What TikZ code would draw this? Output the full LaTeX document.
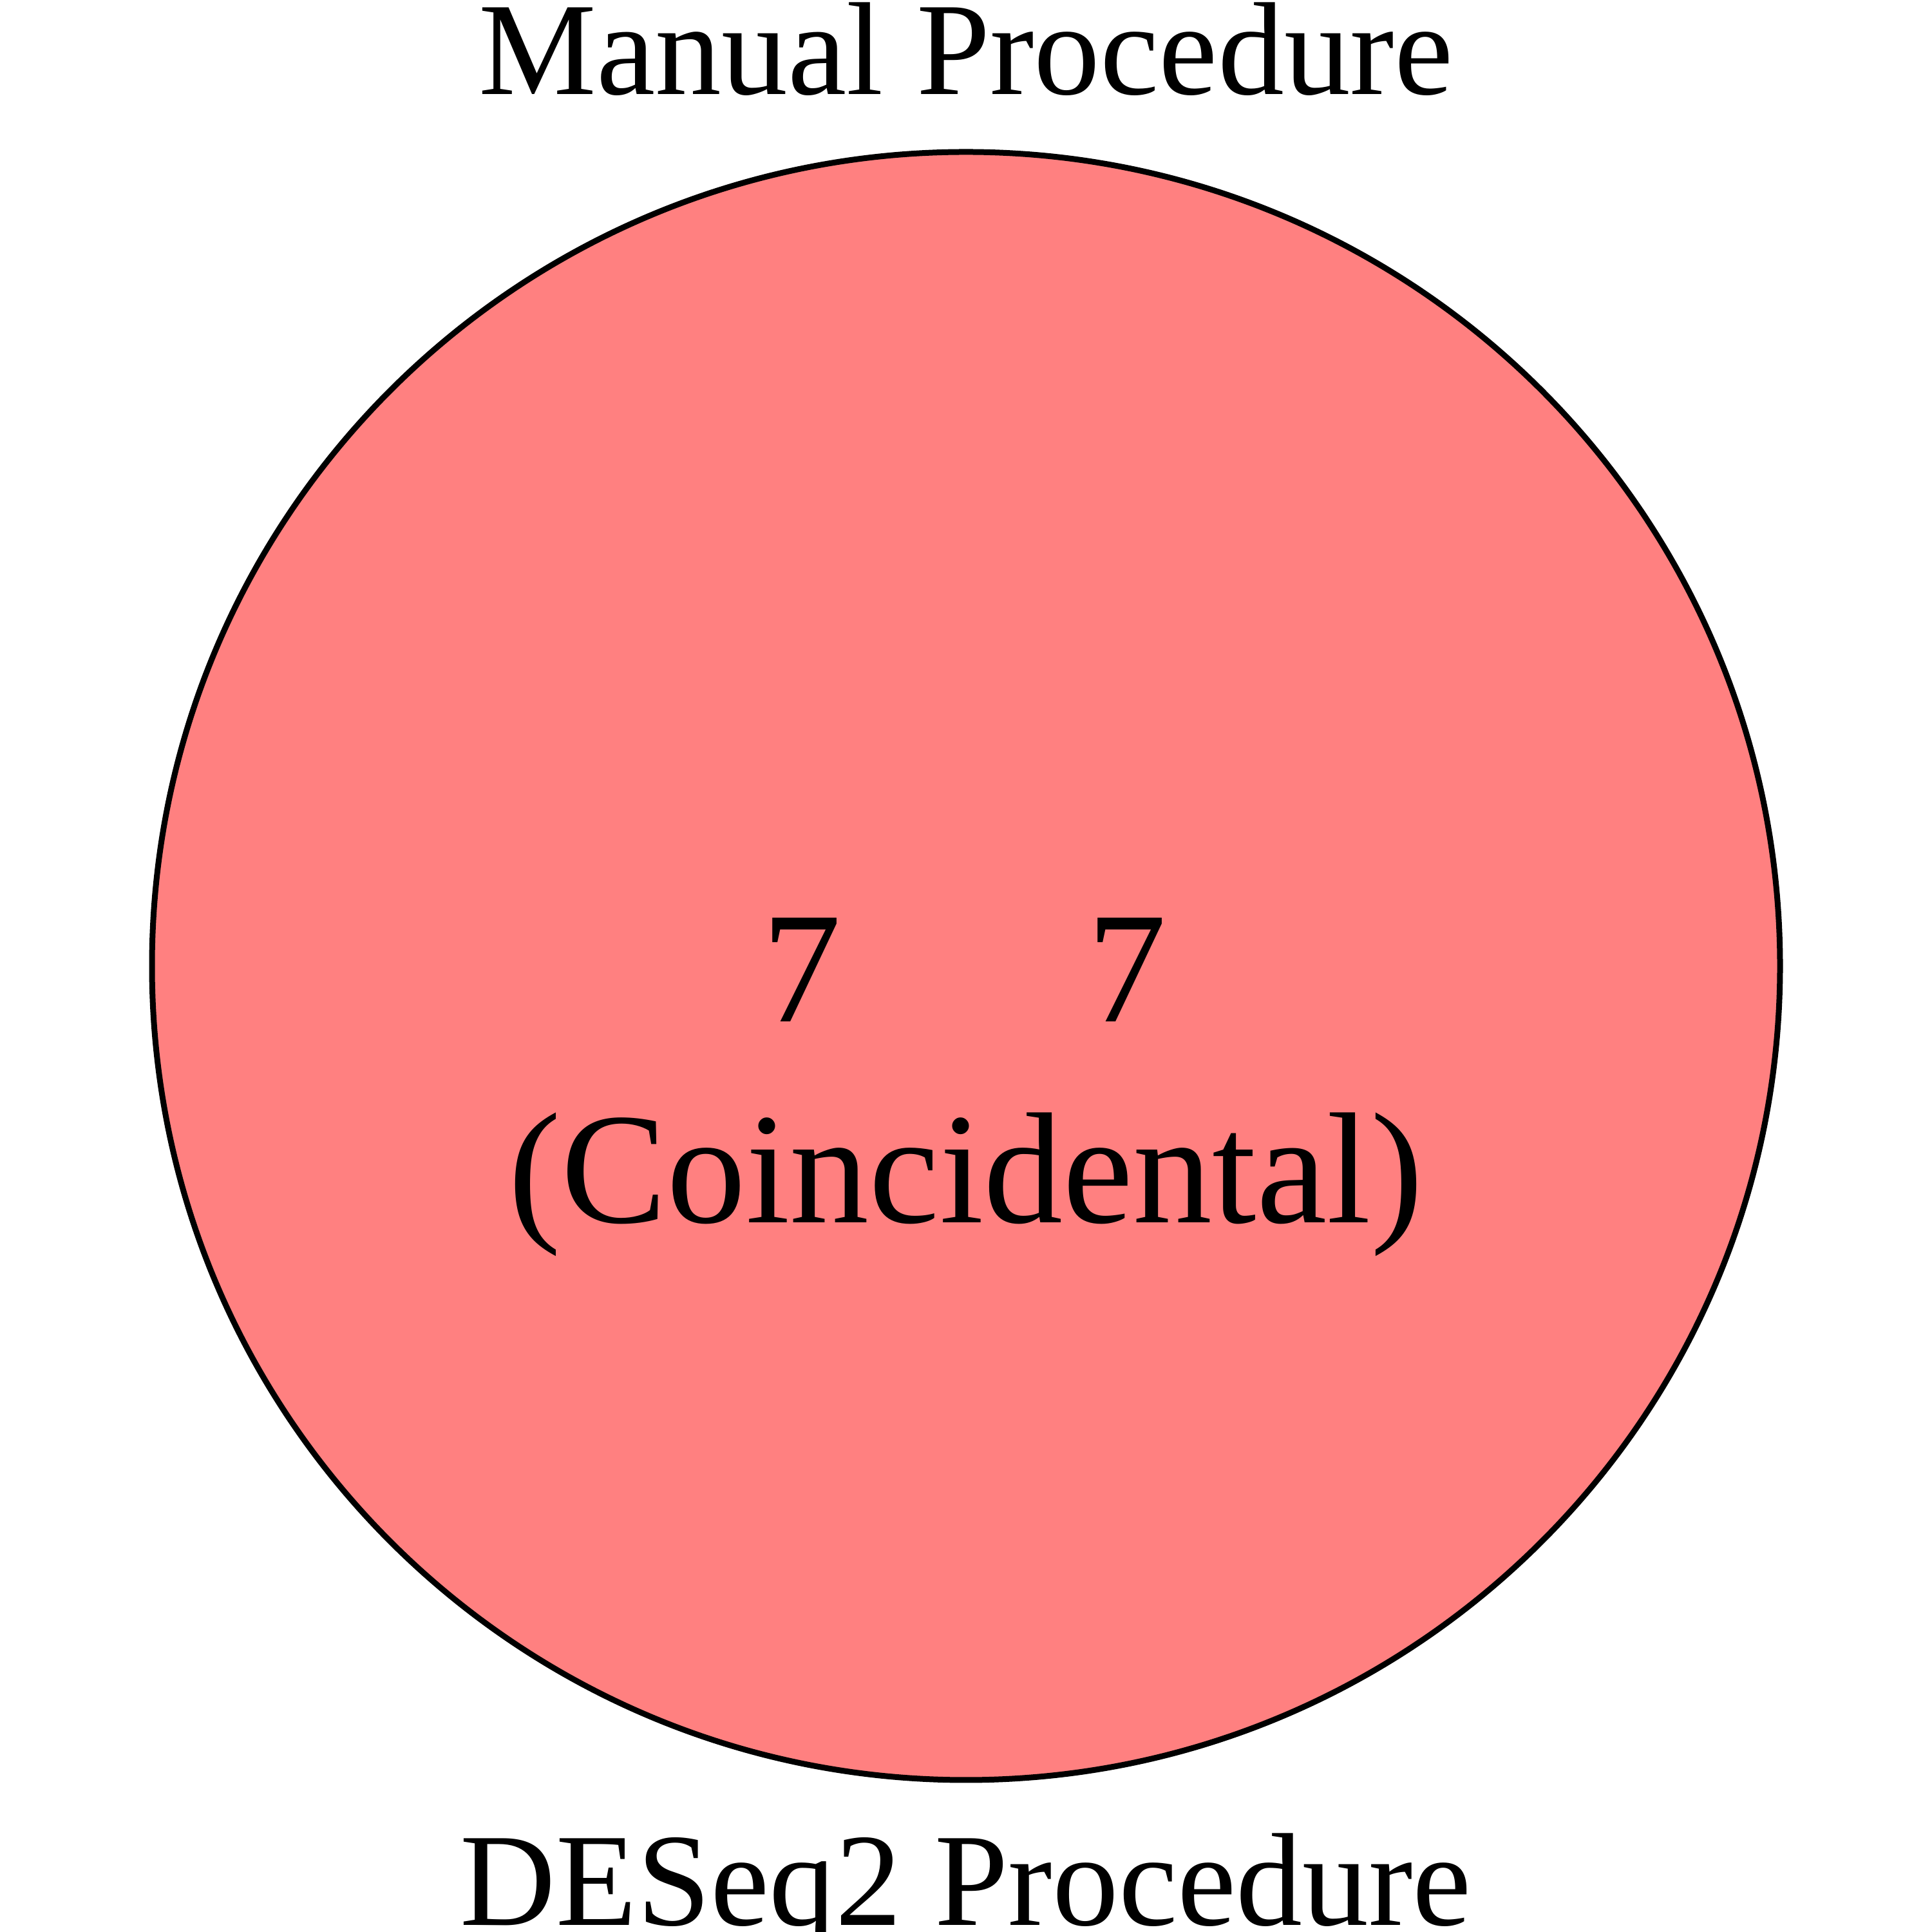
\documentclass[tikz,border=0pt]{standalone}
\usepackage{fontspec}
\setmainfont{Liberation Serif}
\definecolor{vennfill}{RGB}{255,128,128}
\begin{document}
\begin{tikzpicture}[
  setcircle/.style={draw=black, line width=0.09cm, fill=vennfill},
  outerlabel/.style={inner sep=0pt, anchor=base, font=\fontsize{58.5}{70}\selectfont},
  innerlabel/.style={inner sep=0pt, anchor=base, font=\fontsize{70}{84}\selectfont}
]
\useasboundingbox (0,0) rectangle (30,30);
\node[setcircle, circle, minimum size=25.28cm, inner sep=0pt] (c) at (15,15) {};
\node[outerlabel] (ltop) at (15,28.53) {Manual Procedure};
\node[outerlabel] (lbot) at (15,0.11) {DESeq2 Procedure};
\node[innerlabel] (n1) at (12.45,14.13) {7};
\node[innerlabel] (n2) at (17.50,14.13) {7};
\node[innerlabel] (co) at (15,11.01) {(Coincidental)};
\end{tikzpicture}
\end{document}
